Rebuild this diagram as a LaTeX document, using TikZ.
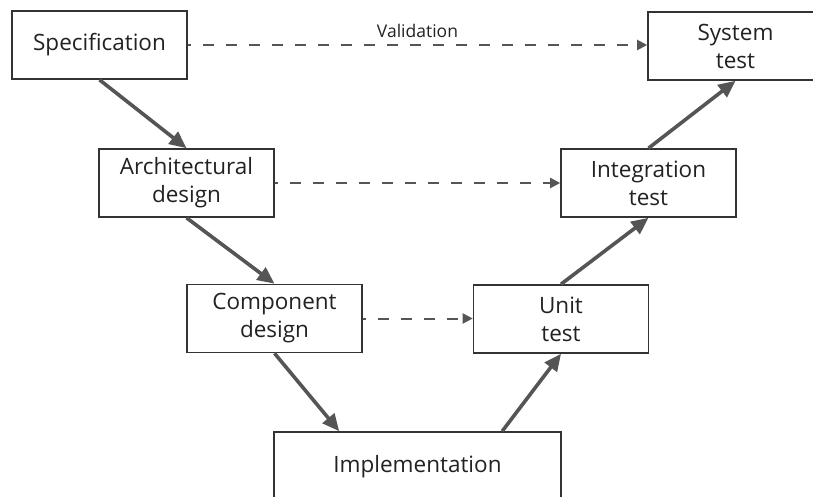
\documentclass[tikz,border=0pt]{standalone}
\usepackage{fontspec}
\setmainfont{Open Sans}
\usetikzlibrary{arrows.meta,calc}
\definecolor{boxline}{HTML}{333333}
\definecolor{flow}{HTML}{555555}
\definecolor{txt}{HTML}{222222}
\tikzset{
  stage/.style={draw=boxline, line width=1.6pt, fill=white, rectangle,
    minimum width=175pt, minimum height=68pt, inner sep=0pt,
    align=center, text=txt, font=\fontsize{22.5}{28}\selectfont},
  flowarrow/.style={draw=flow, line width=3.6pt,
    -{Triangle[length=17pt,width=15pt]}},
  checkarrow/.style={draw=flow, line width=2pt,
    dash pattern=on 11pt off 12pt, dash phase=8pt,
    -{Triangle[length=10pt,width=10pt]}},
}
\begin{document}
\begin{tikzpicture}[x=1pt,y=-1pt]
\useasboundingbox (0,0) rectangle (813,497);
% left branch of the V
\node[stage] (spec) at (99.5,45) {Specification};
\node[stage] (arch) at (186.5,183) {Architectural\\design};
\node[stage] (comp) at (274.5,318.5) {Component\\design};
% bottom
\node[stage, minimum width=287pt, minimum height=70pt] (impl) at (417.5,467) {Implementation};
% right branch of the V
\node[stage] (unit) at (561,319) {Unit\\test};
\node[stage] (integ) at (648.5,183) {Integration\\test};
\node[stage] (sys) at (735.5,46) {System\\test};
% anchor points on the implementation box
\coordinate (implin) at ($(impl.north west)+(66,0)$);
\coordinate (implout) at ($(impl.north west)+(229,0)$);
% development flow
\draw[flowarrow] (spec.south) -- (arch.north);
\draw[flowarrow] (arch.south) -- (comp.north);
\draw[flowarrow] (comp.south) -- (implin);
\draw[flowarrow] (implout) -- (unit.south);
\draw[flowarrow] (unit.north) -- (integ.south);
\draw[flowarrow] (integ.north) -- (sys.south);
% verification links
\draw[checkarrow] (spec.east) -- node[midway, above=3pt, text=txt, font=\fontsize{17.5}{20}\selectfont] {Validation} (spec.east -| sys.west);
\draw[checkarrow] (arch.east) -- (integ.west);
\draw[checkarrow] (comp.east) -- (comp.east -| unit.west);
\end{tikzpicture}
\end{document}
